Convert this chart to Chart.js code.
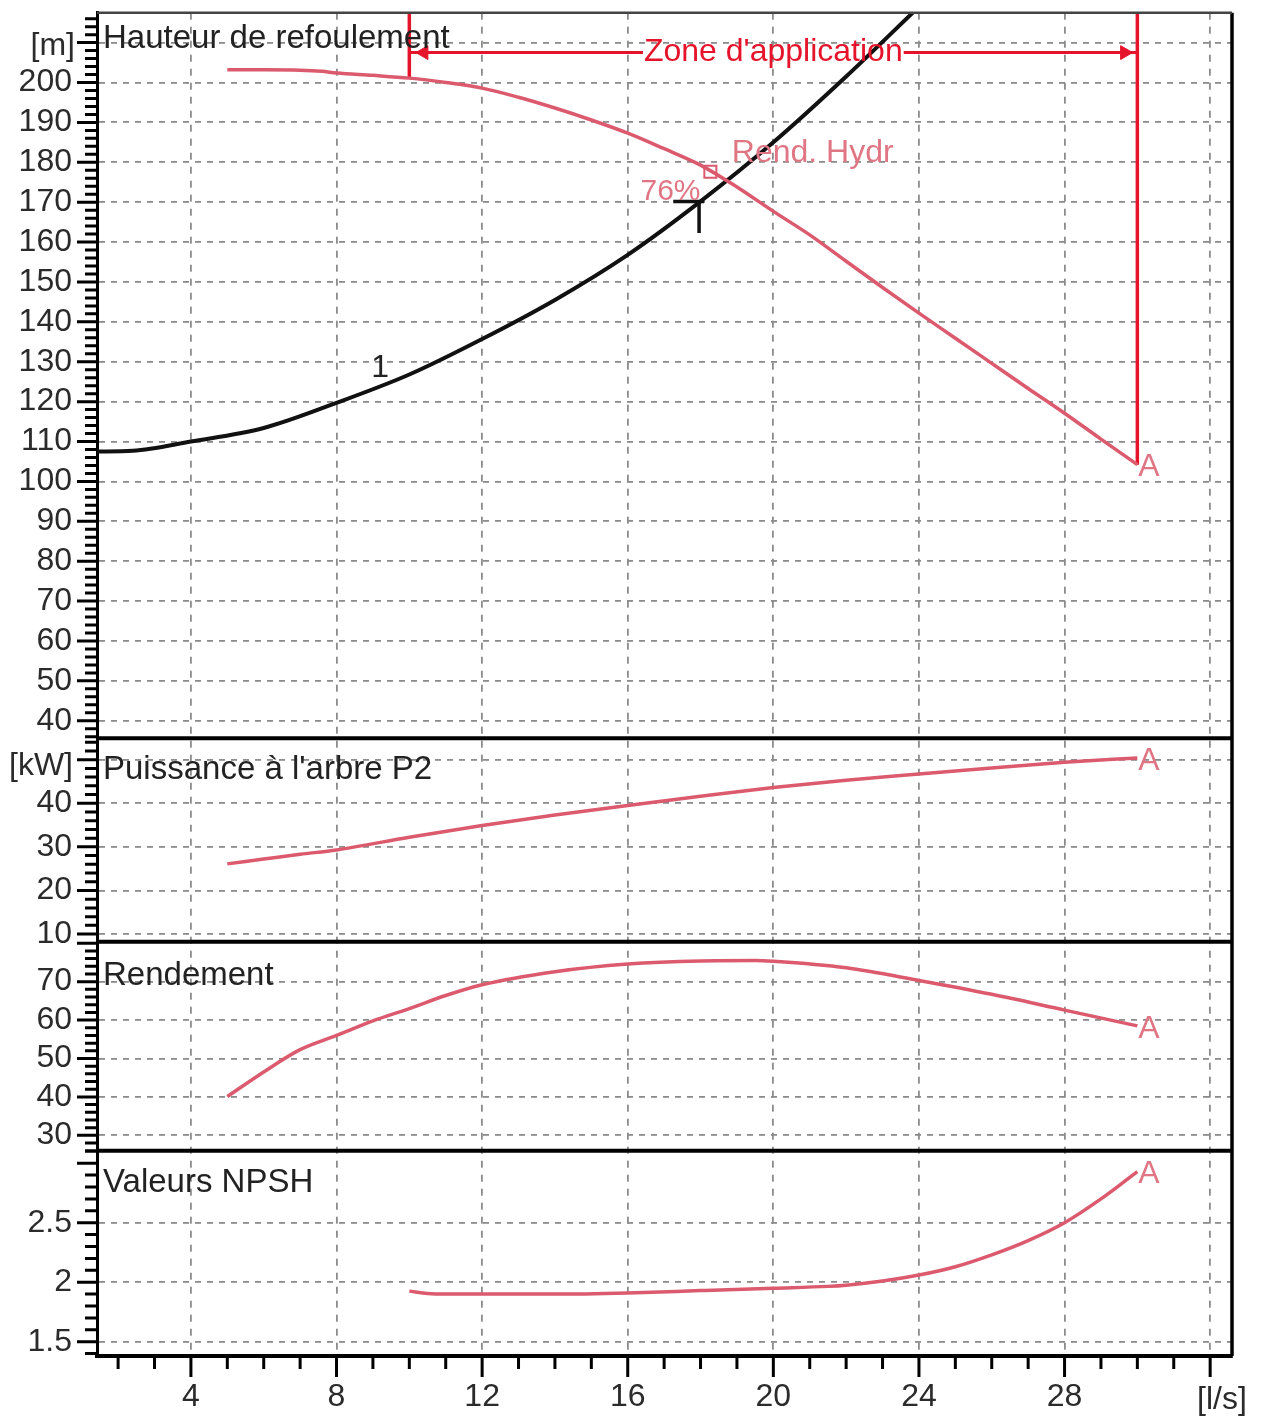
<!DOCTYPE html>
<html>
<head>
<meta charset="utf-8">
<title>Courbes pompe</title>
<script src="https://cdn.jsdelivr.net/npm/chart.js@4.4.0/dist/chart.umd.min.js"></script>
<style>
  html, body { margin: 0; padding: 0; background: #fff; }
  canvas { display: block; }
</style>
</head>
<body>
<canvas id="pumpChart" width="1263" height="1419"></canvas>
<script>
const flowTicks = [4, 8, 12, 16, 20, 24, 28];
const headTicks = [40, 50, 60, 70, 80, 90, 100, 110, 120, 130, 140, 150, 160, 170, 180, 190, 200];
const headGrid = [40, 50, 60, 70, 80, 90, 100, 110, 120, 130, 140, 150, 160, 170, 180, 190, 200, 210];
const powerTicks = [10, 20, 30, 40];
const powerGrid = [10, 20, 30, 40, 50];
const effTicks = [30, 40, 50, 60, 70];
const npshTicks = [1.5, 2, 2.5];

// pump curve (Hauteur de refoulement)
const flowHead = [5, 6, 7, 7.6, 8, 9, 10, 11, 12, 13, 14, 15, 16, 17, 18, 19, 20, 21, 22, 23, 24, 25, 26, 27, 28, 29, 30];
const headPump = [203.2, 203.2, 203.1, 202.8, 202.4, 201.8, 201.1, 200, 198.6, 196.3, 193.6, 190.6, 187.3, 183.4, 179.3, 173.8, 167.7, 161.8, 155.2, 148.6, 142.2, 135.9, 129.6, 123.3, 117.1, 110.6, 104.2];

// system curve "1"
const flowSystem = [1.4, 2.4, 4, 6, 8, 10, 12, 14, 16, 18, 20, 22, 24];
const headSystem = [107.5, 107.7, 110, 113.4, 119.7, 126.8, 135.7, 145.5, 156.8, 170.2, 185, 201.5, 219];

// Puissance a l'arbre P2
const flowPower = [5, 6, 7, 8, 10, 12, 14, 16, 18, 20, 22, 24, 26, 28, 30];
const powerP2 = [26.1, 27.2, 28.3, 29.3, 32.2, 34.9, 37.3, 39.5, 41.6, 43.6, 45.3, 46.7, 48.1, 49.4, 50.4];

// Rendement
const flowEff = [5, 6, 7, 8, 9, 10, 11, 12, 14, 16, 18, 19.5, 20, 22, 24, 26, 28, 30];
const efficiency = [40.1, 46.5, 52.3, 56, 59.8, 63, 66.4, 69.2, 72.6, 74.6, 75.4, 75.5, 75.3, 73.6, 70.3, 66.7, 62.6, 58.5];

// Valeurs NPSH
const flowNpsh = [10, 10.5, 11, 12, 14, 16, 18, 20, 21.5, 22, 23, 24, 25, 26, 27, 28, 29, 30];
const npsh = [1.925, 1.905, 1.9, 1.9, 1.9, 1.91, 1.93, 1.95, 1.965, 1.975, 2.01, 2.06, 2.13, 2.23, 2.35, 2.5, 2.7, 2.93];

// zone d'application and duty point
const zoneFlow = [10, 30];
const zoneHead = 207.5;
const zoneLeftHead = [220, 201.1];
const zoneRightHead = [220, 104.2];
const arrowFlow = [10.4, 29.65];
const dutyBarFlow = [17.25, 18.1];
const dutyBarHead = [170.2, 170.2];
const dutyStemFlow = [17.96, 17.96];
const dutyStemHead = [170.2, 162.3];
const rendFlow = [18.27];
const rendHead = [177.6];

// ===== Colours =====
const pink = "#dc5a6e";
const pinkText = "#e07584";
const red = "#e6142a";
const gridGrey = "#8c8c8c";
const FONT = "'Liberation Sans', Arial, sans-serif";

function pts(xs, ys) {
  return xs.map((x, i) => ({ x: x, y: ys[i] }));
}

function noPad(s) {
  s.paddingTop = 0; s.paddingBottom = 0; s.paddingLeft = 0; s.paddingRight = 0;
}

function yScale(opts) {
  return {
    type: "linear",
    position: "left",
    stack: "panels",
    stackWeight: opts.weightPx,
    weight: opts.order,
    min: opts.min,
    max: opts.max,
    afterFit: (s) => { s.width = 97; noPad(s); },
    border: { color: "#000", width: 3, dash: [6, 6] },
    grid: {
      drawTicks: false,
      lineWidth: 1.8,
      color: (c) => (c.tick && opts.grid.includes(c.tick.value)) ? gridGrey : "rgba(0,0,0,0)"
    },
    ticks: {
      stepSize: opts.step,
      includeBounds: false,
      autoSkip: false,
      padding: 25,
      color: "#2b2b2b",
      font: { family: FONT, size: 32 },
      callback: (v) => opts.labels.includes(v) ? String(v) : ""
    }
  };
}

// ===== Extra drawing: tick marks, frame, titles, annotations =====
const decorPlugin = {
  id: "decor",
  afterDatasetsDraw(chart) {
    const ctx = chart.ctx;
    const x = chart.scales.x;
    const yH = chart.scales.yHead;
    ctx.save();
    // zone d'application horizontal arrow line, split by its label
    ctx.font = "32px " + FONT;
    const label = "Zone d'application";
    const x0 = x.getPixelForValue(zoneFlow[0]);
    const x1 = x.getPixelForValue(zoneFlow[1]);
    const xc = (x0 + x1) / 2;
    const w = ctx.measureText(label).width;
    const py = yH.getPixelForValue(zoneHead);
    ctx.strokeStyle = red;
    ctx.lineWidth = 3;
    ctx.beginPath();
    ctx.moveTo(x0, py); ctx.lineTo(xc - w / 2 - 1, py);
    ctx.moveTo(xc + w / 2 + 1, py); ctx.lineTo(x1, py);
    ctx.stroke();
    ctx.fillStyle = red;
    ctx.textAlign = "center";
    ctx.textBaseline = "middle";
    ctx.fillText(label, xc, py);
    ctx.restore();
  },
  afterDraw(chart) {
    const ctx = chart.ctx;
    const area = chart.chartArea;
    const x = chart.scales.x;
    const s = chart.scales;
    ctx.save();

    // tick marks on the y axes
    const tickSpec = { yHead: [2, 10], yPower: [2, 10], yEff: [2, 10], yNpsh: [0.1, 0.5] };
    ctx.strokeStyle = "#000";
    ctx.lineWidth = 3;
    ctx.beginPath();
    for (const id in tickSpec) {
      const sc = s[id];
      const [minor, major] = tickSpec[id];
      for (let k = Math.ceil(sc.min / minor - 1e-6); k * minor <= sc.max + 1e-9; k++) {
        const v = k * minor;
        const p = sc.getPixelForValue(v);
        const isMajor = Math.abs(v / major - Math.round(v / major)) < 1e-6;
        ctx.moveTo(area.left, p);
        ctx.lineTo(area.left - (isMajor ? 20 : 12), p);
      }
    }
    // tick marks on the x axis
    for (let v = Math.ceil(x.min); v <= x.max; v++) {
      const p = x.getPixelForValue(v);
      ctx.moveTo(p, area.bottom);
      ctx.lineTo(p, area.bottom + (v % 4 === 0 ? 21 : 13));
    }
    ctx.stroke();

    // panel separators and frame
    ctx.beginPath();
    ctx.lineWidth = 4;
    for (const id of ["yPower", "yEff", "yNpsh"]) {
      ctx.moveTo(area.left, s[id].top);
      ctx.lineTo(area.right, s[id].top);
    }
    ctx.stroke();
    ctx.beginPath();
    ctx.lineWidth = 3.5;
    ctx.moveTo(area.right, area.top);
    ctx.lineTo(area.right, area.bottom);
    ctx.stroke();
    ctx.beginPath();
    ctx.strokeStyle = "#444";
    ctx.lineWidth = 2.5;
    ctx.moveTo(area.left, area.top);
    ctx.lineTo(area.right, area.top);
    ctx.stroke();

    // panel titles
    ctx.fillStyle = "#222";
    ctx.textAlign = "left";
    ctx.textBaseline = "alphabetic";
    ctx.font = "33px " + FONT;
    const titles = [["yHead", "Hauteur de refoulement", 35], ["yPower", "Puissance à l'arbre P2", 41],
                    ["yEff", "Rendement", 43], ["yNpsh", "Valeurs NPSH", 41]];
    for (const [id, t, off] of titles) ctx.fillText(t, area.left + 6, s[id].top + off);

    // units
    ctx.fillStyle = "#2b2b2b";
    ctx.textAlign = "right";
    ctx.font = "32px " + FONT;
    ctx.fillText("[m]", area.left - 22, s.yHead.top + 42);
    ctx.fillText("[kW]", area.left - 24, s.yPower.top + 37);
    ctx.textAlign = "center";
    ctx.textBaseline = "middle";
    ctx.fillText("[l/s]", area.right - 10, area.bottom + 44);

    // curve labels
    const yH = s.yHead;
    ctx.fillStyle = "#222";
    ctx.fillText("1", x.getPixelForValue(9.2), yH.getPixelForValue(128.5));
    ctx.fillStyle = pinkText;
    ctx.textAlign = "left";
    ctx.fillText("Rend. Hydr", x.getPixelForValue(18.86), yH.getPixelForValue(182.4));
    ctx.font = "30px " + FONT;
    ctx.textAlign = "right";
    ctx.fillText("76%", x.getPixelForValue(18.0), yH.getPixelForValue(172.6));

    // "A" at the end of every pump curve
    ctx.font = "32px " + FONT;
    ctx.textAlign = "left";
    const ends = [["yHead", flowHead, headPump], ["yPower", flowPower, powerP2],
                  ["yEff", flowEff, efficiency], ["yNpsh", flowNpsh, npsh]];
    for (const [id, xs, ys] of ends) {
      const n = xs.length - 1;
      ctx.fillText("A", x.getPixelForValue(xs[n]) + 1, s[id].getPixelForValue(ys[n]) + 3);
    }
    ctx.restore();
  }
};

const curve = (data, axis, color, width) => ({
  data: data, yAxisID: axis, borderColor: color, borderWidth: width,
  pointRadius: 0, cubicInterpolationMode: "monotone", fill: false
});
const segment = (data, color, width) => ({
  data: data, yAxisID: "yHead", borderColor: color, borderWidth: width,
  pointRadius: 0, tension: 0, fill: false
});

new Chart(document.getElementById("pumpChart"), {
  type: "line",
  data: {
    datasets: [
      curve(pts(flowHead, headPump), "yHead", pink, 3.5),
      curve(pts(flowSystem, headSystem), "yHead", "#111", 4),
      segment(pts([zoneFlow[0], zoneFlow[0]], zoneLeftHead), red, 3.5),
      segment(pts([zoneFlow[1], zoneFlow[1]], zoneRightHead), red, 3.5),
      segment(pts(dutyBarFlow, dutyBarHead), "#111", 3.5),
      segment(pts(dutyStemFlow, dutyStemHead), "#111", 3.5),
      {
        data: pts(arrowFlow, [zoneHead, zoneHead]), yAxisID: "yHead", showLine: false,
        pointStyle: "triangle", pointRotation: [-90, 90], pointRadius: 8,
        pointBackgroundColor: red, pointBorderColor: red, pointBorderWidth: 1
      },
      {
        data: pts(rendFlow, rendHead), yAxisID: "yHead", showLine: false,
        pointStyle: "rect", pointRadius: 8.5, pointBackgroundColor: "#fff",
        pointBorderColor: pink, pointBorderWidth: 2
      },
      curve(pts(flowPower, powerP2), "yPower", pink, 3.5),
      curve(pts(flowEff, efficiency), "yEff", pink, 3.5),
      curve(pts(flowNpsh, npsh), "yNpsh", pink, 3.5)
    ]
  },
  options: {
    responsive: false,
    animation: false,
    devicePixelRatio: 1,
    layout: { padding: { top: 12.7, right: 31, left: 0, bottom: 0 } },
    plugins: { legend: { display: false }, tooltip: { enabled: false } },
    scales: {
      x: {
        type: "linear",
        min: 1.42,
        max: 32.6,
        afterFit: (sc) => { sc.height = 63; noPad(sc); },
        border: { color: "#000", width: 4, dash: [7, 7] },
        grid: { drawTicks: false, lineWidth: 1.8, color: gridGrey },
        ticks: {
          stepSize: 4,
          includeBounds: false,
          autoSkip: false,
          maxRotation: 0,
          padding: 22,
          color: "#2b2b2b",
          font: { family: FONT, size: 32 },
          callback: (v) => flowTicks.includes(v) ? String(v) : ""
        }
      },
      yHead: yScale({ min: 35.6, max: 217.5, step: 10, labels: headTicks, grid: headGrid, weightPx: 725.6, order: 4 }),
      yPower: yScale({ min: 8.25, max: 54.9, step: 10, labels: powerTicks, grid: powerGrid, weightPx: 203.4, order: 3 }),
      yEff: yScale({ min: 26.0, max: 80.4, step: 10, labels: effTicks, grid: effTicks, weightPx: 209, order: 2 }),
      yNpsh: yScale({ min: 1.38, max: 3.105, step: 0.5, labels: npshTicks, grid: npshTicks, weightPx: 205.3, order: 1 })
    }
  },
  plugins: [decorPlugin]
});
</script>
</body>
</html>
